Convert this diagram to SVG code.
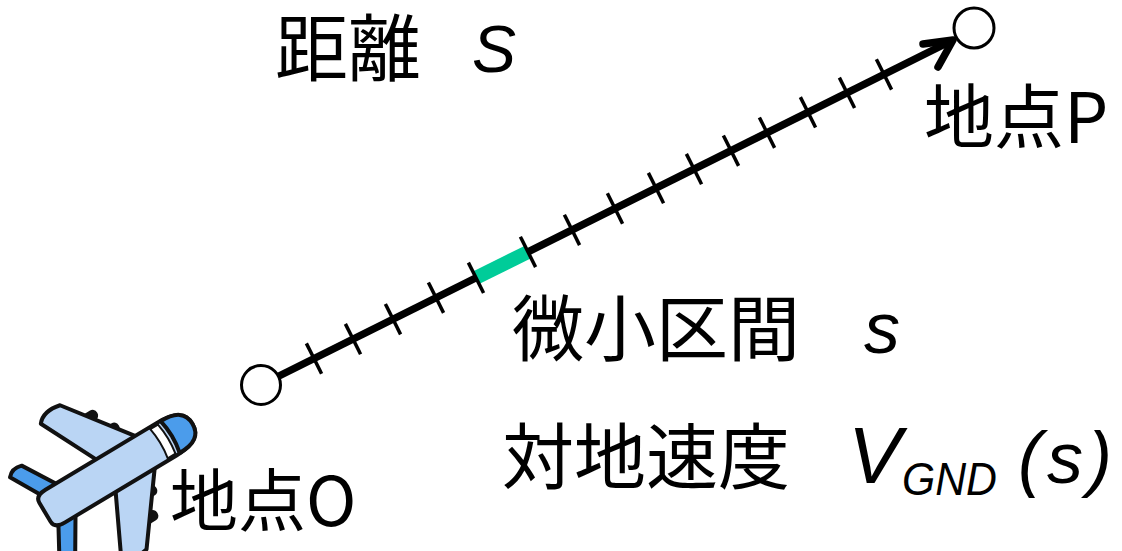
<svg xmlns="http://www.w3.org/2000/svg" width="1122" height="551" viewBox="0 0 1122 551">
  <style>
    .jp { font-family: "Noto Sans CJK JP", "Noto Sans", sans-serif; fill: #000; }
    .var { font-family: "Liberation Sans", Arial, sans-serif; font-style: italic; fill: #000; }
    .pt { fill: #fff; stroke: #000; stroke-width: 3; }
    .main { stroke: #000; stroke-width: 7.5; fill: none; stroke-linecap: butt; }
    .tick { stroke: #000; stroke-width: 3.5; }
    .seg { stroke: #00CC99; stroke-width: 14; }
    .head { stroke: #000; stroke-width: 7.5; fill: none; stroke-linecap: round; stroke-linejoin: round; }
    .ol { stroke: #111; stroke-width: 4; stroke-linejoin: round; stroke-linecap: round; }
    .body { fill: #BAD5F4; }
    .blue { fill: #4B9CEB; }
  </style>

  <!-- path from O to P, divided into short intervals -->
  <g id="connectors">
    <line class="main" x1="278" y1="376.5" x2="950" y2="41.5"/>
    <path class="head" d="M923,44 L953,40 L938,67"/>
    <g id="ticks">
      <line class="tick" x1="306.4" y1="343.4" x2="321.6" y2="373.8"/>
      <line class="tick" x1="345.4" y1="323.9" x2="360.6" y2="354.3"/>
      <line class="tick" x1="385.4" y1="304.0" x2="400.6" y2="334.4"/>
      <line class="tick" x1="428.4" y1="282.5" x2="443.6" y2="312.9"/>
      <line class="seg" x1="476" y1="277.8" x2="528" y2="251.9"/>
      <line class="tick" x1="468.4" y1="262.6" x2="483.6" y2="293.0"/>
      <line class="tick" x1="520.4" y1="236.7" x2="535.6" y2="267.1"/>
      <line class="tick" x1="564.4" y1="214.7" x2="579.6" y2="245.1"/>
      <line class="tick" x1="607.4" y1="193.3" x2="622.6" y2="223.7"/>
      <line class="tick" x1="648.4" y1="172.9" x2="663.6" y2="203.3"/>
      <line class="tick" x1="686.4" y1="153.9" x2="701.6" y2="184.3"/>
      <line class="tick" x1="723.4" y1="135.5" x2="738.6" y2="165.9"/>
      <line class="tick" x1="759.4" y1="117.5" x2="774.6" y2="147.9"/>
      <line class="tick" x1="800.4" y1="97.1" x2="815.6" y2="127.5"/>
      <line class="tick" x1="839.4" y1="77.6" x2="854.6" y2="108.0"/>
      <line class="tick" x1="876.4" y1="59.2" x2="891.6" y2="89.6"/>
    </g>
  </g>

  <g id="point-o">
    <circle class="pt" cx="261" cy="385" r="19.5"/>
    <text class="jp" x="170" y="526" font-size="68">地点O</text>
  </g>

  <g id="point-p">
    <circle class="pt" cx="974" cy="28" r="20"/>
    <text class="jp" x="924" y="143" font-size="70">地点P</text>
  </g>

  <g id="label-distance">
    <text class="jp" x="275" y="75" font-size="73">距離</text>
    <text class="var" x="472" y="72" font-size="66">S</text>
  </g>

  <g id="label-interval">
    <text class="jp" x="512" y="355" font-size="72">微小区間</text>
    <text class="var" x="864" y="353" font-size="72">s</text>
  </g>

  <g id="label-speed">
    <text class="jp" x="502" y="483" font-size="72">対地速度</text>
    <text class="var" x="848" y="483" font-size="80">V</text>
    <text class="var" x="902" y="495" font-size="46" textLength="95" lengthAdjust="spacingAndGlyphs">GND</text>
    <text class="var" x="1018" y="483" font-size="72" letter-spacing="5">(s)</text>
  </g>

  <!-- airliner, drawn nose along +x, then turned to climb toward P -->
  <g id="airplane" transform="translate(117,469) rotate(-31)">
    <!-- engines -->
    <rect x="-8" y="-64" width="20" height="11" rx="5" fill="#111"/>
    <rect x="4" y="-42" width="20" height="11" rx="5" fill="#111"/>
    <rect x="4" y="31" width="20" height="11" rx="5" fill="#111"/>
    <rect x="-8" y="53" width="20" height="11" rx="5" fill="#111"/>
    <!-- main wings -->
    <path class="body ol" d="M34,-17 L-12,-17 L-42,-78 Q-34,-88 -16,-84 Z"/>
    <path class="body ol" d="M34,17 L-12,17 L-42,78 Q-34,88 -16,84 Z"/>
    <!-- tailplanes -->
    <path class="blue ol" d="M-58,-16 L-78,-16 L-96,-48 Q-90,-55 -80,-52 Z"/>
    <path class="blue ol" d="M-58,16 L-78,16 L-96,48 Q-90,55 -80,52 Z"/>
    <!-- fuselage -->
    <path class="body ol" d="M-84,-11 Q-84,-19 -72,-19 L58,-19 Q88,-19 88,0 Q88,19 58,19 L-72,19 Q-84,19 -84,11 Z"/>
    <!-- nose cone -->
    <path class="blue ol" d="M62,-18.5 Q88,-19 88,0 Q88,19 62,18.5 Q66,0 62,-18.5 Z"/>
    <path d="M49,-17 L58,-17 Q61,0 58,17 L49,17 Q52,0 49,-17 Z" fill="#fff" stroke="#111" stroke-width="2"/>
  </g>
</svg>
